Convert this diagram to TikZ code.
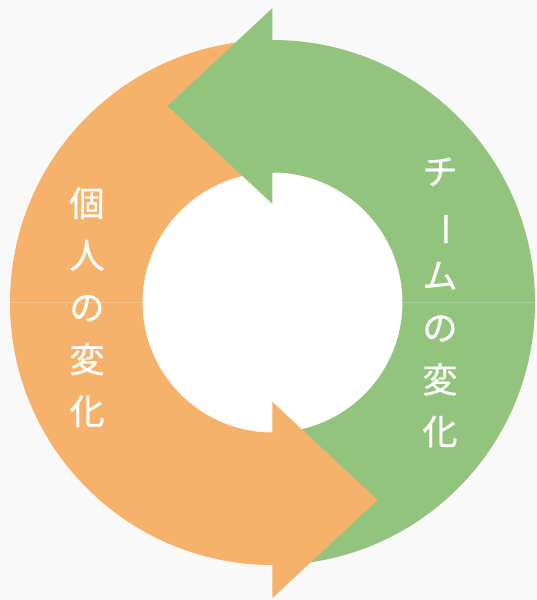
\documentclass[tikz,border=0pt]{standalone}
\usepackage{fontspec}
\newfontfamily\jpfont[FakeBold=0.6]{Noto Sans CJK JP}
\usetikzlibrary{positioning}
\definecolor{ringorange}{RGB}{246,178,107}
\definecolor{ringgreen}{RGB}{147,196,125}
\definecolor{pagegray}{RGB}{249,249,249}

\begin{document}
\begin{tikzpicture}[x=0.02cm, y=-0.02cm,
    ringlabel/.style={text=white, align=center, inner sep=0pt, font=\jpfont\fontsize{20pt}{29.6pt}\selectfont},
    seam/.style={white, opacity=0.2, line width=0.5pt}]

    % page and hole
    \fill[pagegray] (0,0) rectangle (537,600);
    \useasboundingbox (0,0) rectangle (537,600);
    \coordinate (centre) at (272.5,302.5);
    \fill[white] (centre) circle[radius=130];

    % green half, head at the top
    \fill[ringgreen] (272.5,565) arc[start angle=90, end angle=-90, radius=262.5]
        -- (272.5,172.5)
        arc[start angle=-90, end angle=90, radius=130] -- cycle;

    % orange half, head at the bottom
    \fill[ringorange] (272.5,40) arc[start angle=270, end angle=90, radius=262.5]
        -- (272.5,598) -- (377.5,500) -- (272.5,402) -- (272.5,432.5)
        arc[start angle=90, end angle=270, radius=130] -- cycle;

    % green head over the orange
    \fill[ringgreen] (275,40.1) -- (272.5,40) -- (272.5,8) -- (167.5,106) -- (272.5,204)
        -- (272.5,172.5) -- (275,172.6) -- cycle;

    \draw[seam] (10,302.5) -- (142.5,302.5);
    \draw[seam] (402.5,302.5) -- (535,302.5);

    \node[ringlabel] (kojin) at (87,307) {個\\人\\の\\変\\化};
    \node[ringlabel] (team) at (440,302.5) {チ\\\rotatebox[origin=c]{-90}{ー}\\ム\\の\\変\\化};
\end{tikzpicture}
\end{document}
